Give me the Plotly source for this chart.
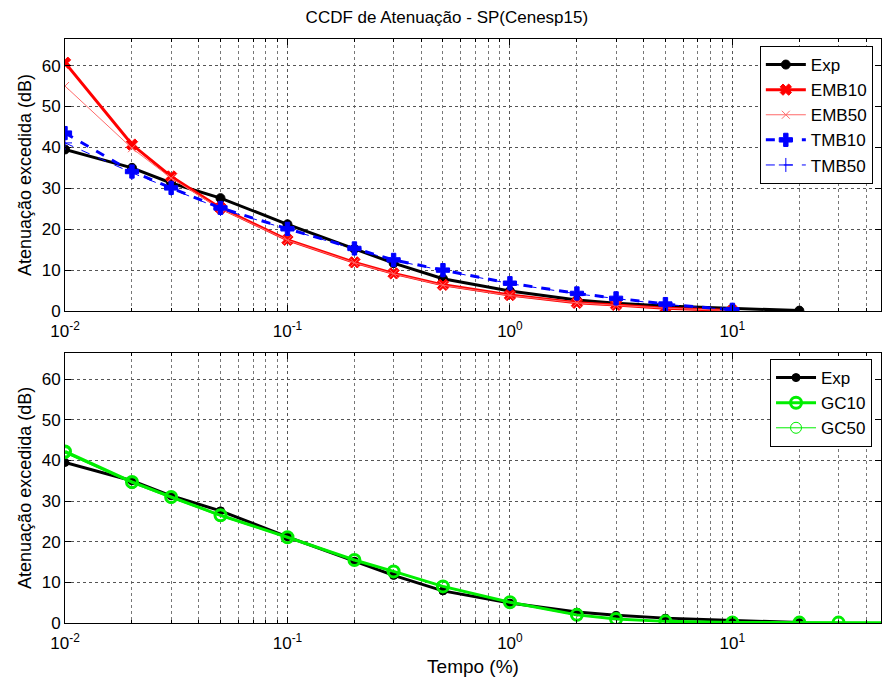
import plotly.graph_objects as go

# ---------------- data ----------------
tempo = [0.01, 0.02, 0.03, 0.05, 0.1, 0.2, 0.3, 0.5, 1, 2, 3, 5, 10, 20]
tempo_gc = [0.01, 0.02, 0.03, 0.05, 0.1, 0.2, 0.3, 0.5, 1, 2, 3, 5, 10, 20, 30, 50]

exp_vals = [39.5, 35.0, 31.3, 27.6, 21.2, 15.2, 11.7, 7.9, 4.9, 2.7, 1.9, 1.2, 0.6, 0.1]
emb10 = [60.7, 40.7, 32.9, 25.2, 17.4, 11.9, 9.2, 6.4, 3.9, 2.0, 1.5, 0.7, 0.1]
emb50 = [55.0, 39.8, 32.5, 25.0, 17.3, 11.8, 9.1, 6.3, 3.8, 2.0, 1.4, 0.7, 0.1]
tmb10 = [43.5, 34.1, 30.1, 25.2, 20.1, 15.3, 12.5, 10.0, 6.8, 4.3, 3.1, 1.7, 0.3]
tmb50 = [41.1, 33.8, 29.9, 25.0, 20.0, 15.2, 12.4, 9.9, 6.7, 4.2, 3.0, 1.6, 0.3]
gc10 = [42.2, 34.7, 31.0, 26.5, 21.1, 15.5, 12.7, 9.0, 5.1, 2.0, 1.0, 0.4, 0.15, 0.1, 0.1, 0.05]
gc50 = [41.8, 34.4, 30.8, 26.3, 21.0, 15.4, 12.6, 8.9, 5.0, 1.9, 1.0, 0.4, 0.15, 0.1, 0.1, 0.05]

major_ticks = [0.01, 0.1, 1, 10]
major_text = ["10<sup>-2</sup>", "10<sup>-1</sup>", "10<sup>0</sup>", "10<sup>1</sup>"]
minor_ticks = [m * d for d in (0.01, 0.1, 1, 10) for m in range(2, 10)]
y_ticks = [0, 10, 20, 30, 40, 50, 60]

title_text = "CCDF de Atenuação - SP(Cenesp15)"
ylabel = "Atenuação excedida (dB)"
xlabel = "Tempo (%)"

FONT = "Liberation Sans"

fig = go.Figure()

n = len(emb10)

def add(x, y, name, color, width, dash, symbol, msize, mlw, xa, ya, legend, mcolor=None):
    fig.add_trace(go.Scatter(
        x=x, y=y, name=name, mode="lines+markers",
        line=dict(color=color, width=width, dash=dash),
        marker=dict(symbol=symbol, size=msize, color=mcolor or color,
                    line=dict(color=mcolor or color, width=mlw)),
        xaxis=xa, yaxis=ya, legend=legend, legendgroup=name + legend,
    ))

# top subplot
add(tempo, exp_vals, "Exp", "black", 3, "solid", "circle", 9, 1, "x", "y", "legend")
add(tempo[:n], emb10, "EMB10", "red", 3, "solid", "x", 10, 1, "x", "y", "legend")
add(tempo[:n], emb50, "EMB50", "#ff6a6a", 1, "solid", "x-thin", 8, 1, "x", "y", "legend")
add(tempo[:n], tmb10, "TMB10", "blue", 3, "dash", "cross", 11, 1, "x", "y", "legend")
add(tempo[:n], tmb50, "TMB50", "blue", 1, "dash", "cross-thin", 10, 1, "x", "y", "legend")

# bottom subplot
add(tempo, exp_vals, "Exp", "black", 3, "solid", "circle", 8, 1, "x2", "y2", "legend2")
add(tempo_gc, gc10, "GC10", "#00ee00", 3, "solid", "circle-open", 11, 3, "x2", "y2", "legend2")
add(tempo_gc, gc50, "GC50", "#00ee00", 1, "solid", "circle-open", 11, 1, "x2", "y2", "legend2")

xmax_log = 1.668

def xaxis(show_title, anchor):
    d = dict(
        type="log", range=[-2, xmax_log], anchor=anchor,
        tickvals=major_ticks, ticktext=major_text,
        ticks="inside", ticklen=6, tickcolor="black", mirror="ticks",
        showline=True, linecolor="black", linewidth=1,
        showgrid=True, gridcolor="#555555", griddash="dot", gridwidth=1,
        minor=dict(tickvals=minor_ticks, ticks="inside", ticklen=3, tickcolor="black",
                   showgrid=True, gridcolor="#777777", griddash="dot", gridwidth=1),
        tickfont=dict(family=FONT, size=17, color="black"),
        zeroline=False, ticklabelstandoff=5,
    )
    if show_title:
        d["title"] = dict(text=xlabel, font=dict(family=FONT, size=19, color="black"), standoff=7)
    return d

def yaxis(domain, anchor):
    return dict(
        domain=domain, range=[0, 66.5], anchor=anchor,
        tickvals=y_ticks, ticks="inside", ticklen=6, tickcolor="black", mirror="ticks",
        showline=True, linecolor="black", linewidth=1,
        showgrid=True, gridcolor="#555555", griddash="dot", gridwidth=1,
        tickfont=dict(family=FONT, size=17, color="black"),
        title=dict(text=ylabel, font=dict(family=FONT, size=18, color="black"), standoff=5),
        zeroline=False,
    )

legend_common = dict(
    bgcolor="white", bordercolor="black", borderwidth=1,
    font=dict(family=FONT, size=17, color="black"),
    xanchor="right", yanchor="top", tracegroupgap=0,
    itemwidth=40,
)

fig.update_layout(
    width=884, height=680,
    margin=dict(l=65, r=3, t=39, b=57),
    paper_bgcolor="white", plot_bgcolor="white",
    title=dict(text=title_text, x=0.468, xref="paper", xanchor="center",
               y=0.975, yref="container", yanchor="middle",
               font=dict(family=FONT, size=17, color="black")),
    xaxis=xaxis(False, "y"),
    yaxis=yaxis([0.5342, 1.0], "x"),
    xaxis2=xaxis(True, "y2"),
    yaxis2=yaxis([0.0, 0.4628], "x2"),
    legend=dict(x=0.990, y=0.988, **legend_common),
    legend2=dict(x=0.989, y=0.452, **legend_common),
    showlegend=True,
)

fig.write_html("out.html")
